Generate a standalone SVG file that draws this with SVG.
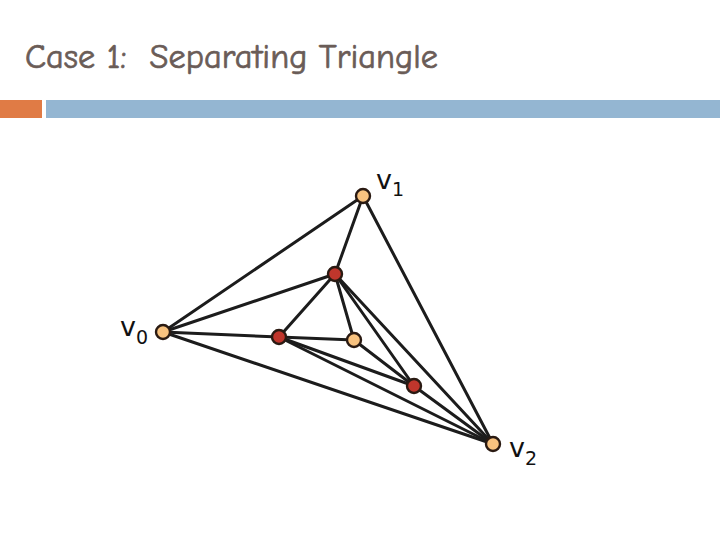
<svg xmlns="http://www.w3.org/2000/svg" width="720" height="540" viewBox="0 0 720 540">
<style>
.title{font-family:"Comic Neue","DejaVu Sans",sans-serif;font-size:34px;fill:#6a5c57;stroke:#6a5c57;stroke-width:0.7}
.e{stroke:#1c1c1c;stroke-width:3;stroke-linecap:round;fill:none}
.o{fill:#f8c27f;stroke:#2a1a12;stroke-width:2.4}
.r{fill:#c0362c;stroke:#2a1a12;stroke-width:2.4}
.lbl{font-family:"DejaVu Sans",Verdana,sans-serif;font-size:27px;fill:#111}
.sub{font-family:"DejaVu Sans",Verdana,sans-serif;font-size:19px;fill:#111}
</style>
<rect width="720" height="540" fill="#fff"/>
<text class="title" x="25" y="68" textLength="413" lengthAdjust="spacingAndGlyphs" xml:space="preserve">Case 1:  Separating Triangle</text>
<rect x="0" y="100" width="42" height="18" fill="#e07b45"/>
<rect x="46" y="100" width="674" height="18" fill="#94b6d2"/>
<g id="connectors">
<line class="e" x1="163" y1="332" x2="363" y2="196"/>
<line class="e" x1="363" y1="196" x2="493" y2="444"/>
<line class="e" x1="163" y1="332" x2="493" y2="444"/>
<line class="e" x1="363" y1="196" x2="335" y2="274"/>
<line class="e" x1="163" y1="332" x2="335" y2="274"/>
<line class="e" x1="163" y1="332" x2="279" y2="337"/>
<line class="e" x1="335" y1="274" x2="279" y2="337"/>
<line class="e" x1="335" y1="274" x2="354" y2="340"/>
<line class="e" x1="335" y1="274" x2="414" y2="386"/>
<line class="e" x1="335" y1="274" x2="493" y2="444"/>
<line class="e" x1="279" y1="337" x2="354" y2="340"/>
<line class="e" x1="279" y1="337" x2="414" y2="386"/>
<line class="e" x1="279" y1="337" x2="493" y2="444"/>
<line class="e" x1="354" y1="340" x2="414" y2="386"/>
<line class="e" x1="414" y1="386" x2="493" y2="444"/>
</g>
<g id="v1"><circle class="o" cx="363" cy="196" r="7"/><text class="lbl" x="376" y="189">v</text><text class="sub" x="392" y="196">1</text></g>
<g id="v0"><circle class="o" cx="163" cy="332" r="7"/><text class="lbl" x="120" y="336">v</text><text class="sub" x="136" y="344">0</text></g>
<g id="v2"><circle class="o" cx="493" cy="444" r="7"/><text class="lbl" x="509" y="457">v</text><text class="sub" x="525" y="465">2</text></g>
<g id="a"><circle class="r" cx="335" cy="274" r="7"/></g>
<g id="b"><circle class="r" cx="279" cy="337" r="7"/></g>
<g id="c"><circle class="o" cx="354" cy="340" r="7"/></g>
<g id="d"><circle class="r" cx="414" cy="386" r="7"/></g>
</svg>
